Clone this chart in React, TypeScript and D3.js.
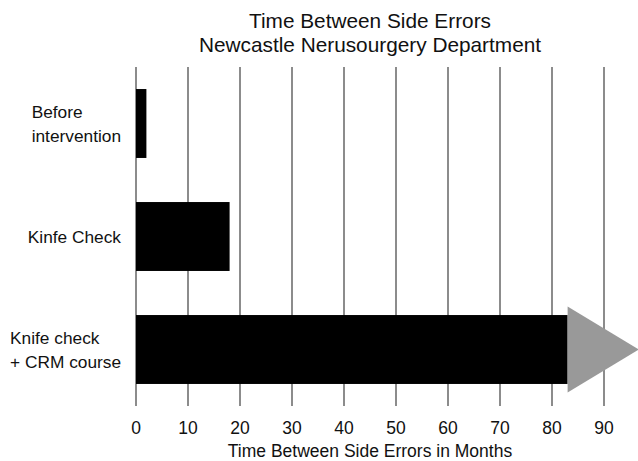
import React, { useEffect, useRef } from "react";
import * as d3 from "d3";

const categories = [
  ["Before", "intervention"],
  ["Kinfe Check"],
  ["Knife check", "+ CRM course"],
];
const values = [2, 18, 83];
const arrowEnd = 96.7;
const ticks = [0, 10, 20, 30, 40, 50, 60, 70, 80, 90];
const titleLines = ["Time Between Side Errors", "Newcastle Nerusourgery Department"];
const xTitle = "Time Between Side Errors in Months";

const W = 638, H = 461;
const FONT = "'Liberation Sans', Arial, Helvetica, sans-serif";

export default function App() {
  const ref = useRef<SVGSVGElement>(null);
  useEffect(() => {
    const svg = d3.select(ref.current);
    svg.selectAll("*").remove();
    const x = d3.scaleLinear().domain([0, 90]).range([136, 604]);
    const y = d3.scaleBand<number>().domain([0, 1, 2]).range([67, 406]).paddingInner(0.39).paddingOuter(0.195);

    svg.append("rect").attr("width", W).attr("height", H).attr("fill", "#fff");

    svg.append("g").selectAll("line").data(ticks).join("line")
      .attr("x1", d => x(d)).attr("x2", d => x(d))
      .attr("y1", 67).attr("y2", 406)
      .attr("stroke", "#666").attr("stroke-width", 1.5);

    svg.append("g").selectAll("rect").data(values).join("rect")
      .attr("x", x(0)).attr("y", (_, i) => y(i)!)
      .attr("width", d => x(d) - x(0)).attr("height", y.bandwidth())
      .attr("fill", "#000");

    const i3 = 2;
    const cy = y(i3)! + y.bandwidth() / 2;
    const half = 43;
    svg.append("path")
      .attr("d", `M${x(values[i3])},${cy - half}L${x(arrowEnd)},${cy}L${x(values[i3])},${cy + half}Z`)
      .attr("fill", "#999");

    svg.append("g").selectAll("text").data(ticks).join("text")
      .attr("x", d => x(d)).attr("y", 434)
      .attr("text-anchor", "middle").attr("font-family", FONT).attr("font-size", 17.5)
      .attr("fill", "#111").text(d => String(d));

    svg.append("text").attr("x", x(45)).attr("y", 457)
      .attr("text-anchor", "middle").attr("font-family", FONT).attr("font-size", 17.5)
      .attr("fill", "#111").text(xTitle);

    titleLines.forEach((t, i) => {
      svg.append("text").attr("x", x(45)).attr("y", 28 + i * 24)
        .attr("text-anchor", "middle").attr("font-family", FONT).attr("font-size", 20.8)
        .attr("fill", "#111").text(t);
    });

    categories.forEach((lines, i) => {
      const c = y(i)! + y.bandwidth() / 2;
      const g = svg.append("g");
      const lh = 24;
      const texts = lines.map((l, j) =>
        g.append("text").attr("x", 0)
          .attr("y", c + (j - (lines.length - 1) / 2) * lh + 6)
          .attr("font-family", FONT).attr("font-size", 17.3).attr("fill", "#111").text(l)
      );
      const maxW = d3.max(texts, t => (t.node() as SVGTextElement).getComputedTextLength()) || 0;
      g.attr("transform", `translate(${121 - maxW},0)`);
    });
  }, []);
  return <svg ref={ref} width={W} height={H} style={{ display: "block", position: "absolute", left: 0, top: 0 }} />;
}
